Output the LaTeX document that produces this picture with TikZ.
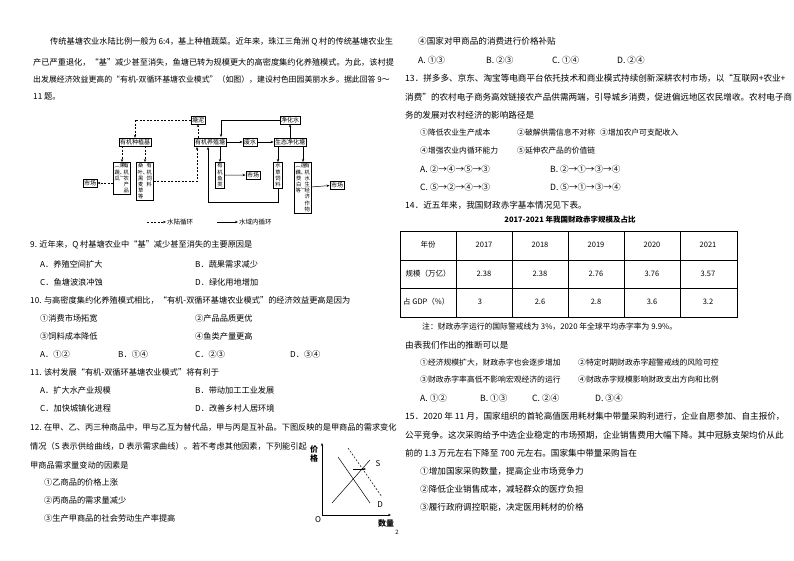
\documentclass[tikz,border=0pt]{standalone}
\usepackage{fontspec}
\setmainfont{Noto Sans CJK SC}
\XeTeXlinebreaklocale "zh"
\XeTeXlinebreakskip=0pt plus 1pt
\usetikzlibrary{arrows.meta}
\newcommand\vcol[1]{\parbox[t]{6.4pt}{\centering\baselineskip=6.2pt #1}}
\begin{document}
\begin{tikzpicture}[x=1pt,y=-1pt,
  t/.style={anchor=west,inner sep=0pt,font=\fontsize{8.2}{10}\selectfont},
  tr/.style={anchor=west,inner sep=0pt,font=\fontsize{8.6}{10}\selectfont},
  ts/.style={anchor=west,inner sep=0pt,font=\fontsize{7.8}{10}\selectfont},
  hb/.style={draw,line width=0.5pt,inner sep=1.2pt,font=\fontsize{6}{7}\selectfont},
  vb/.style={draw,line width=0.5pt,inner sep=1.2pt,font=\fontsize{5.3}{6.2}\selectfont},
  ar/.style={-{Stealth[length=3pt,width=2.4pt]},line width=0.5pt},
  da/.style={ar,dashed,dash pattern=on 2pt off 1.5pt},
  cell/.style={inner sep=0pt,font=\fontsize{7.5}{9}\selectfont}]
\useasboundingbox (0,0) rectangle (794,561);
% left column text
\node[t] (a1) at (50,42) {传统基塘农业水陆比例一般为 6:4，基上种植蔬菜。近年来，珠江三角洲 Q 村的传统基塘农业生};
\node[t] (a2) at (33,62) {产已严重退化，“基”减少甚至消失，鱼塘已转为规模更大的高密度集约化养殖模式。为此，该村提};
\node[t,font=\fontsize{7.9}{10}\selectfont] (a3) at (33,80) {出发展经济效益更高的“有机-双循环基塘农业模式”（如图），建设村色田园美丽水乡。据此回答 9～};
\node[t] (a4) at (33,97) {11 题。};
% diagram
\node[hb] (tn) at (198,120) {塘泥};
\node[hb] (jh) at (290,120) {净化水};
\node[hb] (zj) at (135,142) {有机种植基};
\node[hb] (yz) at (210,142) {有机养殖塘};
\node[hb] (fs) at (250,142) {废水};
\node[hb] (st) at (290,142) {生态净化塘};
\node[vb,anchor=north] (nc) at (122,162) {\vcol{︵果、蔬、瓜︶}\hspace{2pt}\vcol{有机农产品}};
\node[vb,anchor=north] (sl) at (145,162) {\vcol{桑叶、黑麦草等}\hspace{2pt}\vcol{有机饲料}};
\node[hb] (mk1) at (90,183) {市场};
\node[vb,anchor=north] (fish) at (220,162) {\vcol{有机鱼类}};
\node[hb] (mk2) at (253,175) {市场};
\node[vb,anchor=north] (grass) at (278,162) {\vcol{水草饲料}};
\node[vb,anchor=north] (aq) at (303,162) {\vcol{︵莲藕、茭白等︶}\hspace{2pt}\vcol{有机水生经济作物}};
\node[hb] (mk3) at (337,185) {市场};
\coordinate (p1) at (197,147);
\coordinate (p3) at (221,137);
\coordinate (p4) at (208,147);
\coordinate (p5) at (278,202);
\draw[da] (tn.west) -| (zj.north);
\draw[da] (tn.south |- yz.north) -- (tn.south);
\draw[da] (zj.south -| nc) -- (nc.north);
\draw[da] (zj.south -| sl) -- (sl.north);
\draw[da] (nc.west |- mk1) -- (mk1.east);
\draw[da] (sl.east) -| (p1);
\draw[ar] (jh.west) -| (p3);
\draw[ar] (yz) -- (fs);
\draw[ar] (fs) -- (st);
\draw[ar] (st) -- (jh);
\draw[ar] (yz.south -| fish) -- (fish.north);
\draw[ar] (fish) -- (mk2);
\draw[ar] (st.south -| grass) -- (grass.north);
\draw[ar] (st.south -| aq) -- (aq.north);
\draw[ar] (grass.south) -- (p5) -| (p4);
\draw[ar] (aq) -- (mk3);
\coordinate (la) at (147,222); \coordinate (lb) at (166,222);
\coordinate (lc) at (217,222); \coordinate (ld) at (238,222);
\draw[da] (la) -- (lb);
\node[anchor=west,inner sep=1pt,font=\fontsize{6.5}{7}\selectfont] (lt1) at (lb) {水陆循环};
\draw[ar] (lc) -- (ld);
\node[anchor=west,inner sep=1pt,font=\fontsize{6.5}{7}\selectfont] (lt2) at (ld) {水域内循环};
% questions 9-12
\node[t] (q9) at (30,245) {9. 近年来，Q 村基塘农业中“基”减少甚至消失的主要原因是};
\node[t] (q9a) at (40,264) {A．养殖空间扩大};
\node[t] (q9b) at (195,264) {B．蔬果需求减少};
\node[t] (q9c) at (40,282) {C．鱼塘波浪冲蚀};
\node[t] (q9d) at (195,282) {D．绿化用地增加};
\node[t] (q10) at (30,300) {10. 与高密度集约化养殖模式相比，“有机-双循环基塘农业模式”的经济效益更高是因为};
\node[t] (q10a) at (40,318) {①消费市场拓宽};
\node[t] (q10b) at (195,318) {②产品品质更优};
\node[t] (q10c) at (40,336) {③饲料成本降低};
\node[t] (q10d) at (195,336) {④鱼类产量更高};
\node[t] (q10e) at (40,354) {A．①②};
\node[t] (q10f) at (118,354) {B．①④};
\node[t] (q10g) at (195,354) {C．②③};
\node[t] (q10h) at (290,354) {D．③④};
\node[t] (q11) at (30,372) {11. 该村发展“有机-双循环基塘农业模式”将有利于};
\node[t] (q11a) at (40,390) {A．扩大水产业规模};
\node[t] (q11b) at (195,390) {B．带动加工工业发展};
\node[t] (q11c) at (40,408) {C．加快城镇化进程};
\node[t] (q11d) at (195,408) {D．改善乡村人居环境};
\node[t] (q12) at (30,427) {12. 在甲、乙、丙三种商品中，甲与乙互为替代品，甲与丙是互补品。下图反映的是甲商品的需求变化};
\node[t] (q12b) at (30,446) {情况（S 表示供给曲线，D 表示需求曲线）。若不考虑其他因素，下列能引起};
\node[t] (q12c) at (30,465) {甲商品需求量变动的因素是};
\node[t] (q12d) at (44,482) {①乙商品的价格上涨};
\node[t] (q12e) at (44,500) {②丙商品的需求量减少};
\node[t] (q12f) at (44,518) {③生产甲商品的社会劳动生产率提高};
% graph
\coordinate (o) at (322,515);
\coordinate (yt) at (322,443);
\coordinate (xt) at (391,515);
\draw[ar] (o) -- (yt);
\draw[ar] (o) -- (xt);
\node[inner sep=0pt,font=\fontsize{8}{9}\selectfont\bfseries,align=center] (jg) at (314,454) {价\\格};
\node[inner sep=0pt,font=\fontsize{8}{9}\selectfont] (O) at (318,520) {O};
\node[inner sep=0pt,font=\fontsize{8}{9}\selectfont\bfseries] (sl2) at (386,523) {数量};
\coordinate (s1) at (332,503); \coordinate (s2) at (370,460);
\coordinate (d1) at (338,457); \coordinate (d2) at (370,503);
\coordinate (e1) at (348,448); \coordinate (e2) at (382,497);
\coordinate (m1) at (353,469); \coordinate (m2) at (366,469);
\draw[line width=0.5pt] (s1) -- (s2);
\draw[line width=0.5pt] (d1) -- (d2);
\draw[line width=0.5pt,dashed,dash pattern=on 2pt off 1.5pt] (e1) -- (e2);
\draw[ar] (m1) -- (m2);
\node[inner sep=0pt,font=\fontsize{8}{9}\selectfont] (S) at (378,464) {S};
\node[inner sep=0pt,font=\fontsize{8}{9}\selectfont] (D) at (380,505) {D};
\node[inner sep=0pt,font=\fontsize{6}{7}\selectfont] (pg) at (397,532) {2};
% right column
\node[tr] (r1) at (418,41) {④国家对甲商品的消费进行价格补贴};
\node[tr] (r2) at (418,60) {A. ①③};
\node[tr] (r3) at (486,60) {B. ②③};
\node[tr] (r4) at (552,60) {C. ①④};
\node[tr] (r5) at (617,60) {D. ②④};
\node[tr] (r6) at (405,78) {13．拼多多、京东、淘宝等电商平台依托技术和商业模式持续创新深耕农村市场，以“互联网+农业+};
\node[tr] (r7) at (405,97) {消费”的农村电子商务高效链接农产品供需两端，引导城乡消费，促进偏远地区农民增收。农村电子商};
\node[tr] (r8) at (405,115) {务的发展对农村经济的影响路径是};
\node[ts] (r9) at (420,133) {①降低农业生产成本};
\node[ts] (r10) at (517,133) {②破解供需信息不对称};
\node[ts] (r11) at (600,133) {③增加农户可支配收入};
\node[ts] (r12) at (420,151) {④增强农业内循环能力};
\node[ts] (r13) at (517,151) {⑤延伸农产品的价值链};
\node[tr] (r14) at (420,169) {A. ②→④→⑤→③};
\node[tr] (r15) at (550,169) {B. ②→①→③→④};
\node[tr] (r16) at (420,187) {C. ⑤→②→④→③};
\node[tr] (r17) at (550,187) {D. ⑤→①→③→④};
\node[tr] (r18) at (405,205) {14．近五年来，我国财政赤字基本情况见下表。};
\node[inner sep=0pt,font=\fontsize{7.5}{9}\selectfont\bfseries] (ttl) at (570,220) {2017-2021 年我国财政赤字规模及占比};
\draw[line width=0.6pt] (400,231) rectangle (737,317);
\draw[line width=0.6pt] (400,260) -- (737,260) (400,288) -- (737,288);
\foreach \xx in {456,512,568,624,680} \draw[line width=0.6pt] (\xx,231) -- (\xx,317);
\node[cell] (c00) at (428,245) {年份};
\node[cell] (c01) at (484,245) {2017};
\node[cell] (c02) at (540,245) {2018};
\node[cell] (c03) at (596,245) {2019};
\node[cell] (c04) at (652,245) {2020};
\node[cell] (c05) at (708,245) {2021};
\node[cell] (c10) at (428,274) {规模（万亿）};
\node[cell] (c11) at (484,274) {2.38};
\node[cell] (c12) at (540,274) {2.38};
\node[cell] (c13) at (596,274) {2.76};
\node[cell] (c14) at (652,274) {3.76};
\node[cell] (c15) at (708,274) {3.57};
\node[cell,anchor=west] (c20) at (403,302) {占 GDP（\%）};
\node[cell] (c21) at (480,302) {3};
\node[cell] (c22) at (540,302) {2.6};
\node[cell] (c23) at (596,302) {2.8};
\node[cell] (c24) at (652,302) {3.6};
\node[cell] (c25) at (708,302) {3.2};
\node[anchor=west,inner sep=0pt,font=\fontsize{7.8}{9}\selectfont] (nt) at (422,327) {注：财政赤字运行的国际警戒线为 3\%，2020 年全球平均赤字率为 9.9\%。};
\node[tr] (r19) at (405,345) {由表我们作出的推断可以是};
\node[ts] (r20) at (420,363) {①经济规模扩大，财政赤字也会逐步增加};
\node[ts] (r21) at (578,363) {②特定时期财政赤字超警戒线的风险可控};
\node[ts] (r22) at (420,380) {③财政赤字率高低不影响宏观经济的运行};
\node[ts] (r23) at (578,380) {④财政赤字规模影响财政支出方向和比例};
\node[tr] (r24) at (420,398) {A. ①②};
\node[tr] (r25) at (480,398) {B. ①③};
\node[tr] (r26) at (532,398) {C. ②④};
\node[tr] (r27) at (595,398) {D. ③④};
\node[tr] (r28) at (405,416) {15．2020 年 11 月，国家组织的首轮高值医用耗材集中带量采购利进行，企业自愿参加、自主报价，};
\node[tr] (r29) at (405,435) {公平竞争。这次采购给予中选企业稳定的市场预期，企业销售费用大幅下降。其中冠脉支架均价从此};
\node[tr] (r30) at (405,453) {前的 1.3 万元左右下降至 700 元左右。国家集中带量采购旨在};
\node[tr] (r31) at (420,471) {①增加国家采购数量，提高企业市场竞争力};
\node[tr] (r32) at (420,489) {②降低企业销售成本，减轻群众的医疗负担};
\node[tr] (r33) at (420,507) {③履行政府调控职能，决定医用耗材的价格};
\end{tikzpicture}
\end{document}
